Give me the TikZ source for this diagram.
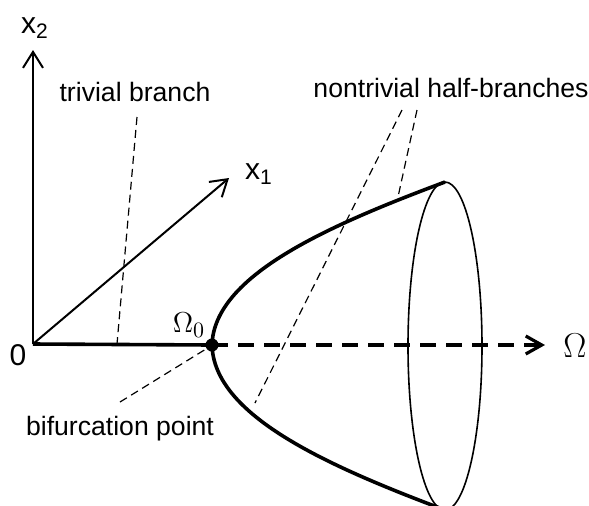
\documentclass[tikz,border=0pt]{standalone}
\usepackage{fontspec}
\setmainfont{Liberation Sans}
\usetikzlibrary{arrows.meta}

\begin{document}
\begin{tikzpicture}[x=0.5pt,y=-0.5pt,font=\fontsize{13.3}{15}\selectfont,
  axis/.style={line width=1pt,-{Straight Barb[length=8pt,width=10pt,line width=1pt]}},
  branch/.style={line width=1.8pt},
  pointer/.style={line width=0.6pt,dash pattern=on 4pt off 2.5pt},
  label/.style={inner sep=0pt}]
\clip (0,0) rectangle (589,505);
% axes
\coordinate (O) at (33,344);
\coordinate (xtwotip) at (33,50);
\coordinate (xonetip) at (229,178);
\coordinate (omtip) at (545,345);
\node[label,font=\fontsize{15}{17}\selectfont] (zero) at (18,355) {0};
\node[label,font=\fontsize{15}{17}\selectfont] (xtwo) at (35,28) {x\textsubscript{2}};
\node[label,font=\fontsize{15}{17}\selectfont] (xone) at (259,174) {x\textsubscript{1}};
\node[label,font=\fontsize{19}{21}\selectfont] (om) at (575,346) {$\Omega$};
\draw[axis] (O) -- (xtwotip);
\draw[axis] (O) -- (xonetip);
% branches
\node[circle,fill,inner sep=0pt,minimum size=6.5pt] (bif) at (212,345) {};
\node[label,font=\fontsize{15}{17}\selectfont] (omzero) at (189,325) {$\Omega_0$};
\draw[branch] (O) -- (bif.center);
\draw[line width=1.8pt,dash pattern=on 8pt off 5pt,
  -{Straight Barb[length=8pt,width=9pt,line width=1.6pt]}] (bif.center) -- (omtip);
\coordinate (top) at (445,182);
\coordinate (bottom) at (445,510);
\draw[branch] (top) .. controls (330,225) and (214,275) .. (bif.center)
  .. controls (214,415) and (325,465) .. (bottom);
\draw[line width=0.8pt] (445,346) ellipse [x radius=37,y radius=164];
% labels and pointers
\node[label] (trivial) at (135,92) {trivial branch};
\node[label] (nontrivial) at (451,88) {nontrivial half-branches};
\node[label] (bifpt) at (120,429) {bifurcation point};
\coordinate (tbtop) at (137,117);
\coordinate (tbend) at (117,344);
\coordinate (ntatop) at (402,110);
\coordinate (ntaend) at (255,403);
\coordinate (ntbtop) at (417,110);
\coordinate (ntbend) at (398,197);
\coordinate (bptop) at (120,402);
\coordinate (bpend) at (206,349);
\draw[pointer] (tbtop) -- (tbend);
\draw[pointer] (ntatop) -- (ntaend);
\draw[pointer] (ntbtop) -- (ntbend);
\draw[pointer] (bptop) -- (bpend);
\end{tikzpicture}
\end{document}
